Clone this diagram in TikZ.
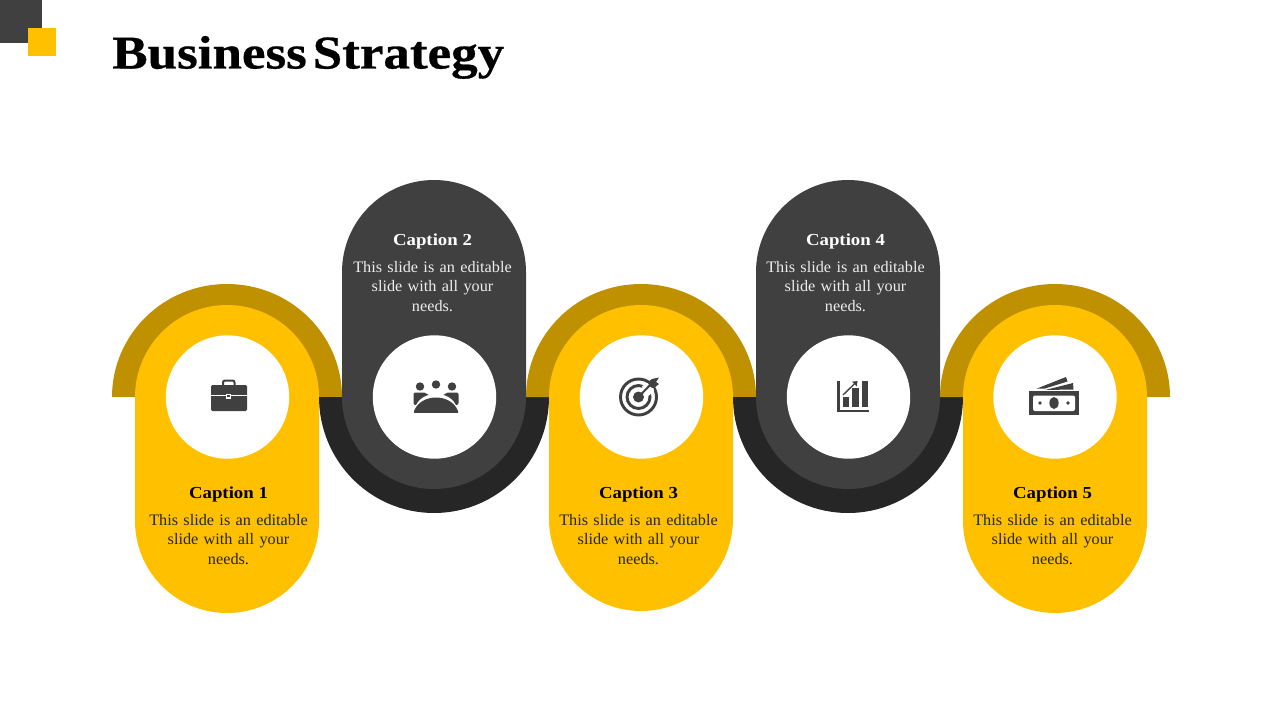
\documentclass[tikz,border=0pt]{standalone}
\usepackage{fontspec}
\setmainfont{Liberation Serif}
\newfontfamily\capfont[FakeStretch=1.12]{Liberation Serif}
\newfontfamily\bodyfont[FakeStretch=1.015,WordSpace=0.75]{Liberation Serif}
\newfontfamily\titlefont[FakeStretch=1.13,WordSpace=0.45,BoldFeatures={FakeBold=0.6}]{Liberation Serif}
\definecolor{gold}{HTML}{FFC000}
\definecolor{darkgold}{HTML}{BF9000}
\definecolor{slate}{HTML}{404040}
\definecolor{ink}{HTML}{262626}
\tikzset{
  capt/.style={inner sep=0pt,anchor=center,font=\capfont\fontsize{12.6pt}{14pt}\selectfont\bfseries},
  body/.style={inner sep=0pt,anchor=center,align=center,text width=190pt,font=\bodyfont\fontsize{12pt}{14.7pt}\selectfont},
  icon/.style={fill=slate,draw=none},
  hole/.style={fill=white,draw=none},
}
\newcommand{\upill}[2]{% center x, bottom y: yellow pill with ring above
  \fill[darkgold] (#1-115,397) arc[start angle=180,end angle=360,x radius=115,y radius=113] -- cycle;
  \fill[gold] (#1-92,397) arc[start angle=180,end angle=360,radius=92] -- (#1+92,#2-92) arc[start angle=0,end angle=180,radius=92] -- cycle;
}
\newcommand{\dpill}[1]{% center x: dark pill with ring below
  \fill[ink] (#1-115,397) arc[start angle=180,end angle=0,x radius=115,y radius=116] -- cycle;
  \fill[slate] (#1-92,397) arc[start angle=180,end angle=0,radius=92] -- (#1+92,272) arc[start angle=360,end angle=180,radius=92] -- cycle;
}
\begin{document}
\begin{tikzpicture}[x=0.75pt,y=-0.75pt]
\useasboundingbox (0,0) rectangle (1280,720);
% corner squares
\fill[slate] (0,0) rectangle (42,43);
\fill[gold] (28,28) rectangle (56,56);
\node[inner sep=0pt,anchor=base west,font=\titlefont\fontsize{35.2pt}{40pt}\selectfont\bfseries] (title) at (112,68.5) {Business Strategy};
% bands
\upill{227}{613}
\dpill{434}
\upill{641}{611}
\dpill{848}
\upill{1055}{613}
\fill[white] (227.5,397) circle[radius=61.7];
\fill[white] (434.5,397) circle[radius=61.7];
\fill[white] (641.5,397) circle[radius=61.7];
\fill[white] (848.5,397) circle[radius=61.7];
\fill[white] (1055,397) circle[radius=61.7];
% captions
\node[capt] (c1) at (228.5,494) {Caption 1};
\node[body,text=ink] (t1) at (228.5,539.5) {This slide is an editable\\slide with all your\\needs.};
\node[capt,text=white] (c2) at (432.5,241) {Caption 2};
\node[body,text=white!93!black] (t2) at (432.5,286.5) {This slide is an editable\\slide with all your\\needs.};
\node[capt] (c3) at (638.5,494) {Caption 3};
\node[body,text=ink] (t3) at (638.5,539.5) {This slide is an editable\\slide with all your\\needs.};
\node[capt,text=white] (c4) at (845.5,241) {Caption 4};
\node[body,text=white!93!black] (t4) at (845.5,286.5) {This slide is an editable\\slide with all your\\needs.};
\node[capt] (c5) at (1052.5,494) {Caption 5};
\node[body,text=ink] (t5) at (1052.5,539.5) {This slide is an editable\\slide with all your\\needs.};
% briefcase
\draw[slate,line width=1.5pt,rounded corners=1.5pt] (223,385) -- (223,380.5) -- (234.5,380.5) -- (234.5,385);
\fill[icon,rounded corners=1pt] (211,385) rectangle (247,411);
\fill[white] (211,395) rectangle (247,396);
\fill[white] (226,393.5) rectangle (231,398.5);
\fill[icon] (227.2,394.7) rectangle (229.8,397.3);
% people around a table
\fill[icon] (420,386.5) circle[radius=4.2];
\fill[icon] (436,384.5) circle[radius=4.2];
\fill[icon] (452,386.5) circle[radius=4.2];
\fill[icon,rounded corners=1.5pt] (413.5,405) -- (413.5,392.5) -- (426,392.5) -- (429,396) -- (443,396) -- (446,392.5) -- (458.5,392.5) -- (458.5,405) -- cycle;
\fill[white] (414,410) .. controls (418,397) and (428,394) .. (436,394) .. controls (444,394) and (454,397) .. (458,410) -- cycle;
\fill[icon] (414,412.8) -- (414,411) .. controls (418,401) and (428,397.5) .. (436,397.5) .. controls (444,397.5) and (454,401) .. (458,411) -- (458,412.8) -- cycle;
% target
\draw[slate,line width=2.2pt] (638.5,397) circle[radius=18];
\draw[slate,line width=2.2pt] (638.5,397) circle[radius=11.5];
\fill[icon] (638.5,397) circle[radius=5.5];
\fill[white] (642,386) -- (652,381) -- (654,391) -- (645,399) -- cycle;
\draw[slate,line width=1.5pt] (638.5,397) -- (651,384);
\fill[icon] (647.5,382.5) -- (652,379) -- (659,377.5) -- (656,382) -- (659,384) -- (654,388) -- (651,387.5) -- cycle;
% chart
\fill[icon] (837,381) rectangle (840,412);
\fill[icon] (837,409.7) rectangle (868.5,412);
\fill[icon] (842.7,397.3) rectangle (849.3,407);
\fill[icon] (852,388) rectangle (859,407);
\fill[icon] (861.7,380.7) rectangle (868.3,407);
\draw[slate,line width=1pt] (843,395) -- (855.5,382.8);
\fill[icon] (857.5,381) -- (852,381.7) -- (856.8,386.5) -- cycle;
% money
\fill[icon] (1029,391) rectangle (1079,415);
\fill[white,rounded corners=1.5pt] (1033,395.5) rectangle (1075,411);
\fill[icon] (1054,403) ellipse[x radius=4.6,y radius=6];
\fill[icon] (1040,403) circle[radius=1.8];
\fill[icon] (1068,403) circle[radius=1.8];
\fill[icon] (1037,388.5) -- (1066,377) -- (1067.5,381.5) -- (1045,388.5) -- cycle;
\fill[icon] (1045,390) -- (1073,383) -- (1073.5,389.5) -- cycle;
\end{tikzpicture}
\end{document}
